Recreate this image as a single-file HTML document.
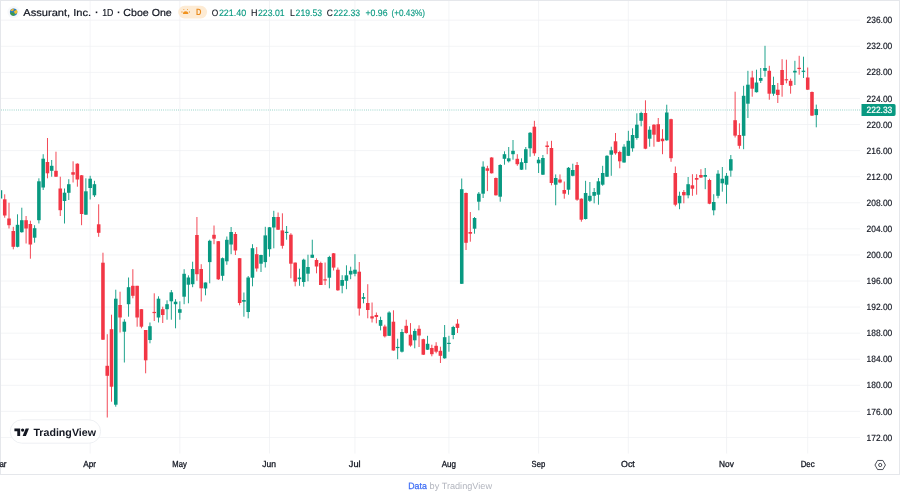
<!DOCTYPE html>
<html lang="en"><head><meta charset="utf-8"><title>Assurant, Inc. chart</title>
<style>
html,body{margin:0;padding:0;background:#fff;}
body{width:900px;height:498px;overflow:hidden;position:relative;font-family:"Liberation Sans",Arial,sans-serif;}
svg{position:absolute;left:0;top:0;display:block;will-change:transform}
text{font-family:"Liberation Sans",Arial,sans-serif;text-rendering:geometricPrecision}
.ax{font-size:9.1px;fill:#131722;stroke:#131722;stroke-width:0.18px}
.hd{font-size:9.3px;stroke-width:0.12px}
.tm{font-size:8.9px;fill:#131722;stroke:#131722;stroke-width:0.3px}
</style></head><body>
<svg width="900" height="498" viewBox="0 0 900 498">
<rect x="0" y="0" width="900" height="498" fill="#ffffff"/>
<g stroke="#eeeff2" stroke-width="0.72" fill="none">
<line x1="1" y1="20.20" x2="860" y2="20.20"/>
<line x1="1" y1="46.28" x2="860" y2="46.28"/>
<line x1="1" y1="72.36" x2="860" y2="72.36"/>
<line x1="1" y1="98.44" x2="860" y2="98.44"/>
<line x1="1" y1="124.52" x2="860" y2="124.52"/>
<line x1="1" y1="150.60" x2="860" y2="150.60"/>
<line x1="1" y1="176.68" x2="860" y2="176.68"/>
<line x1="1" y1="202.76" x2="860" y2="202.76"/>
<line x1="1" y1="228.84" x2="860" y2="228.84"/>
<line x1="1" y1="254.92" x2="860" y2="254.92"/>
<line x1="1" y1="281.00" x2="860" y2="281.00"/>
<line x1="1" y1="307.08" x2="860" y2="307.08"/>
<line x1="1" y1="333.16" x2="860" y2="333.16"/>
<line x1="1" y1="359.24" x2="860" y2="359.24"/>
<line x1="1" y1="385.32" x2="860" y2="385.32"/>
<line x1="1" y1="411.40" x2="860" y2="411.40"/>
<line x1="1" y1="437.48" x2="860" y2="437.48"/>
<line x1="90.15" y1="1" x2="90.15" y2="453.5"/>
<line x1="179.85" y1="1" x2="179.85" y2="453.5"/>
<line x1="269.54" y1="1" x2="269.54" y2="453.5"/>
<line x1="354.96" y1="1" x2="354.96" y2="453.5"/>
<line x1="448.93" y1="1" x2="448.93" y2="453.5"/>
<line x1="538.63" y1="1" x2="538.63" y2="453.5"/>
<line x1="628.32" y1="1" x2="628.32" y2="453.5"/>
<line x1="726.56" y1="1" x2="726.56" y2="453.5"/>
<line x1="807.71" y1="1" x2="807.71" y2="453.5"/>
</g>
<line x1="1" y1="110.0" x2="861" y2="110.0" stroke="#089981" stroke-width="1.15" stroke-dasharray="0.8 1.335" opacity="0.5"/>
<g>
<rect x="0.00" y="190.0" width="0.9" height="9.0" fill="#089981"/><rect x="-1.33" y="190.2" width="3.56" height="8.3" fill="#089981"/>
<rect x="4.28" y="194.3" width="0.9" height="23.4" fill="#f23645"/><rect x="2.95" y="199.3" width="3.56" height="16.2" fill="#f23645"/>
<rect x="8.55" y="202.7" width="0.9" height="25.8" fill="#f23645"/><rect x="7.22" y="218.5" width="3.56" height="6.7" fill="#f23645"/>
<rect x="12.82" y="226.8" width="0.9" height="22.5" fill="#f23645"/><rect x="11.49" y="231.0" width="3.56" height="15.8" fill="#f23645"/>
<rect x="17.09" y="214.3" width="0.9" height="33.0" fill="#089981"/><rect x="15.76" y="224.8" width="3.56" height="22.0" fill="#089981"/>
<rect x="21.36" y="207.7" width="0.9" height="25.0" fill="#089981"/><rect x="20.03" y="220.2" width="3.56" height="12.0" fill="#089981"/>
<rect x="25.63" y="216.0" width="0.9" height="27.5" fill="#f23645"/><rect x="24.30" y="220.2" width="3.56" height="8.3" fill="#f23645"/>
<rect x="29.90" y="220.7" width="0.9" height="38.0" fill="#f23645"/><rect x="28.57" y="224.0" width="3.56" height="20.5" fill="#f23645"/>
<rect x="34.17" y="225.2" width="0.9" height="17.5" fill="#089981"/><rect x="32.84" y="228.2" width="3.56" height="9.5" fill="#089981"/>
<rect x="38.45" y="178.3" width="0.9" height="45.2" fill="#089981"/><rect x="37.12" y="181.3" width="3.56" height="38.9" fill="#089981"/>
<rect x="42.72" y="154.2" width="0.9" height="35.8" fill="#089981"/><rect x="41.39" y="158.7" width="3.56" height="28.8" fill="#089981"/>
<rect x="46.99" y="138.0" width="0.9" height="40.3" fill="#f23645"/><rect x="45.66" y="162.0" width="3.56" height="11.3" fill="#f23645"/>
<rect x="51.26" y="160.0" width="0.9" height="16.7" fill="#089981"/><rect x="49.93" y="165.8" width="3.56" height="5.0" fill="#089981"/>
<rect x="55.53" y="151.7" width="0.9" height="25.3" fill="#f23645"/><rect x="54.20" y="170.8" width="3.56" height="5.9" fill="#f23645"/>
<rect x="59.80" y="176.7" width="0.9" height="39.3" fill="#f23645"/><rect x="58.47" y="188.5" width="3.56" height="21.7" fill="#f23645"/>
<rect x="64.07" y="188.5" width="0.9" height="35.0" fill="#089981"/><rect x="62.74" y="192.7" width="3.56" height="8.3" fill="#089981"/>
<rect x="68.34" y="179.2" width="0.9" height="20.8" fill="#089981"/><rect x="67.01" y="184.2" width="3.56" height="8.6" fill="#089981"/>
<rect x="72.62" y="161.3" width="0.9" height="21.2" fill="#f23645"/><rect x="71.29" y="172.2" width="3.56" height="2.5" fill="#f23645"/>
<rect x="76.89" y="163.3" width="0.9" height="23.4" fill="#f23645"/><rect x="75.56" y="163.7" width="3.56" height="15.8" fill="#f23645"/>
<rect x="81.16" y="175.0" width="0.9" height="50.2" fill="#f23645"/><rect x="79.83" y="175.3" width="3.56" height="38.7" fill="#f23645"/>
<rect x="85.43" y="178.3" width="0.9" height="36.4" fill="#089981"/><rect x="84.10" y="191.3" width="3.56" height="23.4" fill="#089981"/>
<rect x="89.70" y="175.8" width="0.9" height="23.7" fill="#089981"/><rect x="88.37" y="178.7" width="3.56" height="9.3" fill="#089981"/>
<rect x="93.97" y="180.8" width="0.9" height="16.2" fill="#089981"/><rect x="92.64" y="184.2" width="3.56" height="11.1" fill="#089981"/>
<rect x="98.24" y="204.3" width="0.9" height="32.5" fill="#f23645"/><rect x="96.91" y="224.3" width="3.56" height="8.5" fill="#f23645"/>
<rect x="102.51" y="252.7" width="0.9" height="87.3" fill="#f23645"/><rect x="101.18" y="262.7" width="3.56" height="77.0" fill="#f23645"/>
<rect x="106.78" y="334.2" width="0.9" height="83.3" fill="#f23645"/><rect x="105.45" y="365.8" width="3.56" height="10.0" fill="#f23645"/>
<rect x="111.06" y="314.7" width="0.9" height="87.0" fill="#f23645"/><rect x="109.73" y="329.2" width="3.56" height="57.5" fill="#f23645"/>
<rect x="115.33" y="289.7" width="0.9" height="117.0" fill="#089981"/><rect x="114.00" y="298.7" width="3.56" height="106.0" fill="#089981"/>
<rect x="119.60" y="291.7" width="0.9" height="40.8" fill="#f23645"/><rect x="118.27" y="305.0" width="3.56" height="12.5" fill="#f23645"/>
<rect x="123.87" y="319.2" width="0.9" height="43.3" fill="#089981"/><rect x="122.54" y="321.7" width="3.56" height="10.0" fill="#089981"/>
<rect x="128.14" y="277.5" width="0.9" height="39.2" fill="#089981"/><rect x="126.81" y="287.2" width="3.56" height="17.0" fill="#089981"/>
<rect x="132.41" y="269.2" width="0.9" height="29.1" fill="#f23645"/><rect x="131.08" y="285.8" width="3.56" height="10.0" fill="#f23645"/>
<rect x="136.68" y="285.8" width="0.9" height="40.9" fill="#f23645"/><rect x="135.35" y="285.8" width="3.56" height="31.7" fill="#f23645"/>
<rect x="140.95" y="309.0" width="0.9" height="19.3" fill="#f23645"/><rect x="139.62" y="309.2" width="3.56" height="17.5" fill="#f23645"/>
<rect x="145.23" y="330.0" width="0.9" height="43.3" fill="#f23645"/><rect x="143.90" y="330.0" width="3.56" height="30.3" fill="#f23645"/>
<rect x="149.50" y="322.5" width="0.9" height="20.8" fill="#089981"/><rect x="148.17" y="326.2" width="3.56" height="13.8" fill="#089981"/>
<rect x="153.77" y="293.3" width="0.9" height="27.7" fill="#f23645"/><rect x="152.44" y="311.9" width="3.56" height="1.2" fill="#f23645"/>
<rect x="158.04" y="296.3" width="0.9" height="26.2" fill="#089981"/><rect x="156.71" y="298.7" width="3.56" height="18.8" fill="#089981"/>
<rect x="162.31" y="306.7" width="0.9" height="16.3" fill="#f23645"/><rect x="160.98" y="309.2" width="3.56" height="5.8" fill="#f23645"/>
<rect x="166.58" y="300.3" width="0.9" height="19.4" fill="#089981"/><rect x="165.25" y="304.2" width="3.56" height="5.0" fill="#089981"/>
<rect x="170.85" y="290.0" width="0.9" height="29.7" fill="#089981"/><rect x="169.52" y="292.3" width="3.56" height="9.0" fill="#089981"/>
<rect x="175.12" y="299.2" width="0.9" height="29.1" fill="#089981"/><rect x="173.79" y="301.7" width="3.56" height="2.5" fill="#089981"/>
<rect x="179.40" y="301.3" width="0.9" height="18.4" fill="#089981"/><rect x="178.07" y="309.2" width="3.56" height="3.6" fill="#089981"/>
<rect x="183.67" y="269.2" width="0.9" height="35.0" fill="#089981"/><rect x="182.34" y="273.8" width="3.56" height="22.9" fill="#089981"/>
<rect x="187.94" y="275.3" width="0.9" height="28.0" fill="#089981"/><rect x="186.61" y="277.5" width="3.56" height="7.2" fill="#089981"/>
<rect x="192.21" y="261.7" width="0.9" height="25.5" fill="#089981"/><rect x="190.88" y="269.0" width="3.56" height="15.2" fill="#089981"/>
<rect x="196.48" y="217.0" width="0.9" height="63.8" fill="#f23645"/><rect x="195.15" y="235.0" width="3.56" height="39.2" fill="#f23645"/>
<rect x="200.75" y="264.2" width="0.9" height="37.3" fill="#f23645"/><rect x="199.42" y="269.0" width="3.56" height="19.3" fill="#f23645"/>
<rect x="205.02" y="282.5" width="0.9" height="12.8" fill="#089981"/><rect x="203.69" y="282.5" width="3.56" height="6.0" fill="#089981"/>
<rect x="209.29" y="239.7" width="0.9" height="43.6" fill="#089981"/><rect x="207.96" y="240.8" width="3.56" height="21.3" fill="#089981"/>
<rect x="213.56" y="225.5" width="0.9" height="18.7" fill="#f23645"/><rect x="212.23" y="234.8" width="3.56" height="3.9" fill="#f23645"/>
<rect x="217.84" y="241.0" width="0.9" height="39.0" fill="#f23645"/><rect x="216.51" y="241.2" width="3.56" height="38.1" fill="#f23645"/>
<rect x="222.11" y="257.5" width="0.9" height="23.2" fill="#089981"/><rect x="220.78" y="258.2" width="3.56" height="17.6" fill="#089981"/>
<rect x="226.38" y="236.5" width="0.9" height="28.3" fill="#089981"/><rect x="225.05" y="239.8" width="3.56" height="21.5" fill="#089981"/>
<rect x="230.65" y="227.0" width="0.9" height="27.2" fill="#089981"/><rect x="229.32" y="232.0" width="3.56" height="12.5" fill="#089981"/>
<rect x="234.92" y="232.0" width="0.9" height="23.0" fill="#f23645"/><rect x="233.59" y="234.0" width="3.56" height="16.5" fill="#f23645"/>
<rect x="239.19" y="258.0" width="0.9" height="47.3" fill="#f23645"/><rect x="237.86" y="258.2" width="3.56" height="44.8" fill="#f23645"/>
<rect x="243.46" y="292.5" width="0.9" height="24.2" fill="#089981"/><rect x="242.13" y="300.0" width="3.56" height="1.7" fill="#089981"/>
<rect x="247.73" y="276.0" width="0.9" height="42.3" fill="#089981"/><rect x="246.40" y="277.5" width="3.56" height="34.5" fill="#089981"/>
<rect x="252.01" y="244.2" width="0.9" height="42.1" fill="#089981"/><rect x="250.68" y="248.2" width="3.56" height="29.5" fill="#089981"/>
<rect x="256.28" y="247.1" width="0.9" height="24.5" fill="#f23645"/><rect x="254.95" y="254.2" width="3.56" height="14.3" fill="#f23645"/>
<rect x="260.55" y="254.7" width="0.9" height="17.3" fill="#089981"/><rect x="259.22" y="255.0" width="3.56" height="8.7" fill="#089981"/>
<rect x="264.82" y="226.8" width="0.9" height="40.7" fill="#089981"/><rect x="263.49" y="235.4" width="3.56" height="26.7" fill="#089981"/>
<rect x="269.09" y="227.0" width="0.9" height="29.7" fill="#089981"/><rect x="267.76" y="227.3" width="3.56" height="21.9" fill="#089981"/>
<rect x="273.36" y="210.8" width="0.9" height="37.5" fill="#089981"/><rect x="272.03" y="217.0" width="3.56" height="10.5" fill="#089981"/>
<rect x="277.63" y="212.5" width="0.9" height="17.5" fill="#f23645"/><rect x="276.30" y="217.0" width="3.56" height="12.7" fill="#f23645"/>
<rect x="281.90" y="213.3" width="0.9" height="35.3" fill="#f23645"/><rect x="280.57" y="230.4" width="3.56" height="15.4" fill="#f23645"/>
<rect x="286.18" y="226.0" width="0.9" height="13.7" fill="#089981"/><rect x="284.85" y="231.8" width="3.56" height="1.2" fill="#089981"/>
<rect x="290.45" y="233.2" width="0.9" height="45.1" fill="#f23645"/><rect x="289.12" y="234.7" width="3.56" height="29.0" fill="#f23645"/>
<rect x="294.72" y="262.5" width="0.9" height="23.8" fill="#f23645"/><rect x="293.39" y="262.6" width="3.56" height="19.1" fill="#f23645"/>
<rect x="298.99" y="268.7" width="0.9" height="17.1" fill="#089981"/><rect x="297.66" y="277.5" width="3.56" height="1.7" fill="#089981"/>
<rect x="303.26" y="258.7" width="0.9" height="28.0" fill="#089981"/><rect x="301.93" y="259.7" width="3.56" height="22.3" fill="#089981"/>
<rect x="307.53" y="254.7" width="0.9" height="26.6" fill="#089981"/><rect x="306.20" y="267.0" width="3.56" height="6.7" fill="#089981"/>
<rect x="311.80" y="239.7" width="0.9" height="18.1" fill="#089981"/><rect x="310.47" y="254.7" width="3.56" height="3.1" fill="#089981"/>
<rect x="316.07" y="258.3" width="0.9" height="15.0" fill="#f23645"/><rect x="314.74" y="260.0" width="3.56" height="6.5" fill="#f23645"/>
<rect x="320.34" y="261.7" width="0.9" height="23.3" fill="#f23645"/><rect x="319.01" y="263.0" width="3.56" height="22.0" fill="#f23645"/>
<rect x="324.62" y="262.5" width="0.9" height="22.5" fill="#f23645"/><rect x="323.29" y="279.3" width="3.56" height="1.2" fill="#f23645"/>
<rect x="328.89" y="255.8" width="0.9" height="32.5" fill="#089981"/><rect x="327.56" y="257.0" width="3.56" height="20.7" fill="#089981"/>
<rect x="333.16" y="253.0" width="0.9" height="17.5" fill="#f23645"/><rect x="331.83" y="253.3" width="3.56" height="14.3" fill="#f23645"/>
<rect x="337.43" y="267.5" width="0.9" height="23.3" fill="#f23645"/><rect x="336.10" y="269.7" width="3.56" height="20.6" fill="#f23645"/>
<rect x="341.70" y="275.2" width="0.9" height="18.1" fill="#089981"/><rect x="340.37" y="280.0" width="3.56" height="5.8" fill="#089981"/>
<rect x="345.97" y="265.3" width="0.9" height="23.9" fill="#089981"/><rect x="344.64" y="275.3" width="3.56" height="5.5" fill="#089981"/>
<rect x="350.24" y="266.7" width="0.9" height="12.5" fill="#089981"/><rect x="348.91" y="270.8" width="3.56" height="3.7" fill="#089981"/>
<rect x="354.51" y="254.2" width="0.9" height="22.1" fill="#089981"/><rect x="353.18" y="269.7" width="3.56" height="4.1" fill="#089981"/>
<rect x="358.79" y="262.0" width="0.9" height="53.6" fill="#f23645"/><rect x="357.46" y="271.7" width="3.56" height="36.8" fill="#f23645"/>
<rect x="363.06" y="293.0" width="0.9" height="10.3" fill="#089981"/><rect x="361.73" y="297.1" width="3.56" height="1.7" fill="#089981"/>
<rect x="367.33" y="284.2" width="0.9" height="34.1" fill="#f23645"/><rect x="366.00" y="303.0" width="3.56" height="7.0" fill="#f23645"/>
<rect x="371.60" y="302.5" width="0.9" height="20.0" fill="#f23645"/><rect x="370.27" y="316.3" width="3.56" height="2.2" fill="#f23645"/>
<rect x="375.87" y="312.5" width="0.9" height="10.8" fill="#f23645"/><rect x="374.54" y="315.0" width="3.56" height="2.0" fill="#f23645"/>
<rect x="380.14" y="316.7" width="0.9" height="13.7" fill="#089981"/><rect x="378.81" y="320.0" width="3.56" height="5.8" fill="#089981"/>
<rect x="384.41" y="324.7" width="0.9" height="12.8" fill="#f23645"/><rect x="383.08" y="326.5" width="3.56" height="9.8" fill="#f23645"/>
<rect x="388.68" y="311.3" width="0.9" height="24.7" fill="#089981"/><rect x="387.35" y="312.5" width="3.56" height="23.3" fill="#089981"/>
<rect x="392.96" y="310.3" width="0.9" height="40.4" fill="#f23645"/><rect x="391.63" y="321.7" width="3.56" height="28.8" fill="#f23645"/>
<rect x="397.23" y="338.7" width="0.9" height="20.5" fill="#089981"/><rect x="395.90" y="346.9" width="3.56" height="1.2" fill="#089981"/>
<rect x="401.50" y="329.0" width="0.9" height="23.5" fill="#089981"/><rect x="400.17" y="332.0" width="3.56" height="19.7" fill="#089981"/>
<rect x="405.77" y="319.7" width="0.9" height="14.0" fill="#f23645"/><rect x="404.44" y="325.8" width="3.56" height="7.2" fill="#f23645"/>
<rect x="410.04" y="323.1" width="0.9" height="23.6" fill="#f23645"/><rect x="408.71" y="334.7" width="3.56" height="10.8" fill="#f23645"/>
<rect x="414.31" y="328.7" width="0.9" height="19.6" fill="#089981"/><rect x="412.98" y="331.0" width="3.56" height="9.3" fill="#089981"/>
<rect x="418.58" y="325.3" width="0.9" height="21.7" fill="#f23645"/><rect x="417.25" y="328.8" width="3.56" height="6.7" fill="#f23645"/>
<rect x="422.85" y="338.7" width="0.9" height="16.3" fill="#f23645"/><rect x="421.52" y="339.2" width="3.56" height="15.5" fill="#f23645"/>
<rect x="427.12" y="335.8" width="0.9" height="14.2" fill="#089981"/><rect x="425.79" y="343.8" width="3.56" height="5.9" fill="#089981"/>
<rect x="431.40" y="344.7" width="0.9" height="11.6" fill="#f23645"/><rect x="430.07" y="348.0" width="3.56" height="6.2" fill="#f23645"/>
<rect x="435.67" y="342.2" width="0.9" height="11.1" fill="#f23645"/><rect x="434.34" y="345.8" width="3.56" height="5.9" fill="#f23645"/>
<rect x="439.94" y="346.7" width="0.9" height="16.3" fill="#f23645"/><rect x="438.61" y="350.8" width="3.56" height="5.0" fill="#f23645"/>
<rect x="444.21" y="325.0" width="0.9" height="33.7" fill="#089981"/><rect x="442.88" y="337.2" width="3.56" height="21.1" fill="#089981"/>
<rect x="448.48" y="335.8" width="0.9" height="15.9" fill="#089981"/><rect x="447.15" y="342.8" width="3.56" height="1.2" fill="#089981"/>
<rect x="452.75" y="325.8" width="0.9" height="13.4" fill="#089981"/><rect x="451.42" y="327.0" width="3.56" height="8.0" fill="#089981"/>
<rect x="457.02" y="319.2" width="0.9" height="13.8" fill="#f23645"/><rect x="455.69" y="323.7" width="3.56" height="4.2" fill="#f23645"/>
<rect x="461.29" y="178.5" width="0.9" height="105.5" fill="#089981"/><rect x="459.96" y="189.2" width="3.56" height="94.6" fill="#089981"/>
<rect x="465.57" y="192.5" width="0.9" height="57.5" fill="#f23645"/><rect x="464.24" y="193.0" width="3.56" height="49.8" fill="#f23645"/>
<rect x="469.84" y="212.0" width="0.9" height="29.7" fill="#f23645"/><rect x="468.51" y="232.0" width="3.56" height="1.7" fill="#f23645"/>
<rect x="474.11" y="217.0" width="0.9" height="16.7" fill="#089981"/><rect x="472.78" y="218.0" width="3.56" height="10.7" fill="#089981"/>
<rect x="478.38" y="192.0" width="0.9" height="18.3" fill="#089981"/><rect x="477.05" y="193.7" width="3.56" height="8.0" fill="#089981"/>
<rect x="482.65" y="161.3" width="0.9" height="36.7" fill="#089981"/><rect x="481.32" y="166.7" width="3.56" height="27.0" fill="#089981"/>
<rect x="486.92" y="165.8" width="0.9" height="25.3" fill="#f23645"/><rect x="485.59" y="168.3" width="3.56" height="2.5" fill="#f23645"/>
<rect x="491.19" y="157.2" width="0.9" height="16.3" fill="#f23645"/><rect x="489.86" y="157.5" width="3.56" height="15.8" fill="#f23645"/>
<rect x="495.46" y="177.5" width="0.9" height="18.0" fill="#f23645"/><rect x="494.13" y="178.0" width="3.56" height="17.3" fill="#f23645"/>
<rect x="499.74" y="164.2" width="0.9" height="37.5" fill="#089981"/><rect x="498.41" y="165.0" width="3.56" height="31.7" fill="#089981"/>
<rect x="504.01" y="151.3" width="0.9" height="13.4" fill="#089981"/><rect x="502.68" y="154.2" width="3.56" height="4.6" fill="#089981"/>
<rect x="508.28" y="147.0" width="0.9" height="15.5" fill="#089981"/><rect x="506.95" y="158.3" width="3.56" height="3.0" fill="#089981"/>
<rect x="512.55" y="140.0" width="0.9" height="19.7" fill="#089981"/><rect x="511.22" y="150.8" width="3.56" height="3.4" fill="#089981"/>
<rect x="516.82" y="154.2" width="0.9" height="11.6" fill="#f23645"/><rect x="515.49" y="158.8" width="3.56" height="5.4" fill="#f23645"/>
<rect x="521.09" y="158.3" width="0.9" height="11.7" fill="#089981"/><rect x="519.76" y="162.2" width="3.56" height="7.5" fill="#089981"/>
<rect x="525.36" y="147.0" width="0.9" height="22.7" fill="#089981"/><rect x="524.03" y="149.2" width="3.56" height="13.8" fill="#089981"/>
<rect x="529.63" y="132.0" width="0.9" height="24.7" fill="#089981"/><rect x="528.30" y="132.8" width="3.56" height="15.5" fill="#089981"/>
<rect x="533.90" y="120.8" width="0.9" height="35.0" fill="#f23645"/><rect x="532.57" y="126.7" width="3.56" height="26.6" fill="#f23645"/>
<rect x="538.18" y="157.0" width="0.9" height="16.0" fill="#089981"/><rect x="536.85" y="159.7" width="3.56" height="3.6" fill="#089981"/>
<rect x="542.45" y="155.0" width="0.9" height="20.0" fill="#089981"/><rect x="541.12" y="158.0" width="3.56" height="16.7" fill="#089981"/>
<rect x="546.72" y="141.3" width="0.9" height="12.9" fill="#f23645"/><rect x="545.39" y="145.5" width="3.56" height="1.5" fill="#f23645"/>
<rect x="550.99" y="140.8" width="0.9" height="44.5" fill="#f23645"/><rect x="549.66" y="148.0" width="3.56" height="35.0" fill="#f23645"/>
<rect x="555.26" y="174.4" width="0.9" height="30.9" fill="#089981"/><rect x="553.93" y="178.0" width="3.56" height="6.7" fill="#089981"/>
<rect x="559.53" y="174.4" width="0.9" height="8.9" fill="#f23645"/><rect x="558.20" y="179.5" width="3.56" height="3.0" fill="#f23645"/>
<rect x="563.80" y="181.5" width="0.9" height="17.2" fill="#f23645"/><rect x="562.47" y="190.0" width="3.56" height="3.7" fill="#f23645"/>
<rect x="568.07" y="167.0" width="0.9" height="27.7" fill="#089981"/><rect x="566.74" y="167.8" width="3.56" height="21.9" fill="#089981"/>
<rect x="572.35" y="163.7" width="0.9" height="12.6" fill="#089981"/><rect x="571.02" y="170.0" width="3.56" height="5.8" fill="#089981"/>
<rect x="576.62" y="162.0" width="0.9" height="38.8" fill="#f23645"/><rect x="575.29" y="165.0" width="3.56" height="34.7" fill="#f23645"/>
<rect x="580.89" y="198.3" width="0.9" height="23.4" fill="#f23645"/><rect x="579.56" y="198.7" width="3.56" height="21.0" fill="#f23645"/>
<rect x="585.16" y="180.8" width="0.9" height="38.7" fill="#089981"/><rect x="583.83" y="193.0" width="3.56" height="26.0" fill="#089981"/>
<rect x="589.43" y="182.0" width="0.9" height="20.0" fill="#089981"/><rect x="588.10" y="195.8" width="3.56" height="5.0" fill="#089981"/>
<rect x="593.70" y="188.0" width="0.9" height="15.3" fill="#089981"/><rect x="592.37" y="192.0" width="3.56" height="3.8" fill="#089981"/>
<rect x="597.97" y="178.0" width="0.9" height="26.7" fill="#089981"/><rect x="596.64" y="181.3" width="3.56" height="13.4" fill="#089981"/>
<rect x="602.24" y="165.8" width="0.9" height="20.0" fill="#089981"/><rect x="600.91" y="173.0" width="3.56" height="11.7" fill="#089981"/>
<rect x="606.52" y="155.2" width="0.9" height="21.8" fill="#089981"/><rect x="605.19" y="155.8" width="3.56" height="20.9" fill="#089981"/>
<rect x="610.79" y="146.7" width="0.9" height="29.1" fill="#089981"/><rect x="609.46" y="150.3" width="3.56" height="4.4" fill="#089981"/>
<rect x="615.06" y="133.0" width="0.9" height="21.7" fill="#f23645"/><rect x="613.73" y="141.3" width="3.56" height="12.0" fill="#f23645"/>
<rect x="619.33" y="150.8" width="0.9" height="17.5" fill="#f23645"/><rect x="618.00" y="152.0" width="3.56" height="9.3" fill="#f23645"/>
<rect x="623.60" y="144.2" width="0.9" height="18.5" fill="#089981"/><rect x="622.27" y="146.7" width="3.56" height="15.8" fill="#089981"/>
<rect x="627.87" y="130.8" width="0.9" height="25.2" fill="#089981"/><rect x="626.54" y="140.8" width="3.56" height="15.0" fill="#089981"/>
<rect x="632.14" y="128.3" width="0.9" height="23.4" fill="#089981"/><rect x="630.81" y="135.0" width="3.56" height="13.3" fill="#089981"/>
<rect x="636.41" y="113.3" width="0.9" height="26.4" fill="#089981"/><rect x="635.08" y="124.7" width="3.56" height="13.3" fill="#089981"/>
<rect x="640.68" y="111.7" width="0.9" height="14.6" fill="#089981"/><rect x="639.35" y="113.0" width="3.56" height="7.8" fill="#089981"/>
<rect x="644.96" y="100.3" width="0.9" height="48.9" fill="#f23645"/><rect x="643.63" y="113.0" width="3.56" height="35.7" fill="#f23645"/>
<rect x="649.23" y="126.3" width="0.9" height="20.4" fill="#089981"/><rect x="647.90" y="129.7" width="3.56" height="9.0" fill="#089981"/>
<rect x="653.50" y="124.2" width="0.9" height="22.5" fill="#f23645"/><rect x="652.17" y="124.7" width="3.56" height="10.0" fill="#f23645"/>
<rect x="657.77" y="118.0" width="0.9" height="24.0" fill="#f23645"/><rect x="656.44" y="124.2" width="3.56" height="17.5" fill="#f23645"/>
<rect x="662.04" y="129.2" width="0.9" height="25.0" fill="#f23645"/><rect x="660.71" y="138.7" width="3.56" height="2.5" fill="#f23645"/>
<rect x="666.31" y="104.7" width="0.9" height="36.1" fill="#089981"/><rect x="664.98" y="112.5" width="3.56" height="27.8" fill="#089981"/>
<rect x="670.58" y="118.7" width="0.9" height="43.1" fill="#f23645"/><rect x="669.25" y="119.2" width="3.56" height="39.0" fill="#f23645"/>
<rect x="674.85" y="166.5" width="0.9" height="39.8" fill="#f23645"/><rect x="673.52" y="173.0" width="3.56" height="31.7" fill="#f23645"/>
<rect x="679.13" y="191.7" width="0.9" height="17.5" fill="#089981"/><rect x="677.80" y="195.8" width="3.56" height="7.5" fill="#089981"/>
<rect x="683.40" y="190.0" width="0.9" height="13.3" fill="#f23645"/><rect x="682.07" y="192.0" width="3.56" height="3.3" fill="#f23645"/>
<rect x="687.67" y="177.0" width="0.9" height="21.3" fill="#089981"/><rect x="686.34" y="184.2" width="3.56" height="11.1" fill="#089981"/>
<rect x="691.94" y="174.2" width="0.9" height="21.6" fill="#f23645"/><rect x="690.61" y="185.3" width="3.56" height="3.4" fill="#f23645"/>
<rect x="696.21" y="174.2" width="0.9" height="20.5" fill="#f23645"/><rect x="694.88" y="178.0" width="3.56" height="1.7" fill="#f23645"/>
<rect x="700.48" y="169.2" width="0.9" height="8.8" fill="#f23645"/><rect x="699.15" y="175.0" width="3.56" height="2.5" fill="#f23645"/>
<rect x="704.75" y="168.0" width="0.9" height="21.2" fill="#089981"/><rect x="703.42" y="175.0" width="3.56" height="1.8" fill="#089981"/>
<rect x="709.02" y="178.7" width="0.9" height="25.5" fill="#f23645"/><rect x="707.69" y="180.0" width="3.56" height="23.7" fill="#f23645"/>
<rect x="713.30" y="194.2" width="0.9" height="21.1" fill="#089981"/><rect x="711.97" y="202.0" width="3.56" height="8.3" fill="#089981"/>
<rect x="717.57" y="170.2" width="0.9" height="28.1" fill="#089981"/><rect x="716.24" y="173.7" width="3.56" height="22.1" fill="#089981"/>
<rect x="721.84" y="167.0" width="0.9" height="24.7" fill="#089981"/><rect x="720.51" y="178.7" width="3.56" height="4.6" fill="#089981"/>
<rect x="726.11" y="173.0" width="0.9" height="30.7" fill="#089981"/><rect x="724.78" y="175.8" width="3.56" height="8.9" fill="#089981"/>
<rect x="730.38" y="155.0" width="0.9" height="21.7" fill="#089981"/><rect x="729.05" y="159.2" width="3.56" height="11.4" fill="#089981"/>
<rect x="734.65" y="91.7" width="0.9" height="45.8" fill="#f23645"/><rect x="733.32" y="120.2" width="3.56" height="15.4" fill="#f23645"/>
<rect x="738.92" y="123.3" width="0.9" height="25.4" fill="#f23645"/><rect x="737.59" y="135.0" width="3.56" height="10.8" fill="#f23645"/>
<rect x="743.19" y="85.8" width="0.9" height="63.4" fill="#089981"/><rect x="741.86" y="95.8" width="3.56" height="40.0" fill="#089981"/>
<rect x="747.46" y="70.8" width="0.9" height="47.2" fill="#089981"/><rect x="746.13" y="84.7" width="3.56" height="19.0" fill="#089981"/>
<rect x="751.74" y="70.8" width="0.9" height="25.9" fill="#f23645"/><rect x="750.41" y="77.5" width="3.56" height="11.2" fill="#f23645"/>
<rect x="756.01" y="69.7" width="0.9" height="22.8" fill="#089981"/><rect x="754.68" y="82.5" width="3.56" height="9.7" fill="#089981"/>
<rect x="760.28" y="68.0" width="0.9" height="15.0" fill="#089981"/><rect x="758.95" y="78.0" width="3.56" height="2.8" fill="#089981"/>
<rect x="764.55" y="45.8" width="0.9" height="30.9" fill="#089981"/><rect x="763.22" y="68.0" width="3.56" height="2.8" fill="#089981"/>
<rect x="768.82" y="65.8" width="0.9" height="33.9" fill="#f23645"/><rect x="767.49" y="70.8" width="3.56" height="22.9" fill="#f23645"/>
<rect x="773.09" y="76.7" width="0.9" height="19.1" fill="#089981"/><rect x="771.76" y="85.0" width="3.56" height="8.7" fill="#089981"/>
<rect x="777.36" y="83.0" width="0.9" height="20.0" fill="#f23645"/><rect x="776.03" y="89.7" width="3.56" height="5.3" fill="#f23645"/>
<rect x="781.63" y="59.2" width="0.9" height="37.5" fill="#f23645"/><rect x="780.30" y="70.0" width="3.56" height="15.0" fill="#f23645"/>
<rect x="785.91" y="59.7" width="0.9" height="23.6" fill="#f23645"/><rect x="784.58" y="79.2" width="3.56" height="1.2" fill="#f23645"/>
<rect x="790.18" y="78.7" width="0.9" height="15.0" fill="#f23645"/><rect x="788.85" y="80.8" width="3.56" height="5.0" fill="#f23645"/>
<rect x="794.45" y="60.8" width="0.9" height="24.2" fill="#089981"/><rect x="793.12" y="70.8" width="3.56" height="1.7" fill="#089981"/>
<rect x="798.72" y="55.8" width="0.9" height="18.9" fill="#f23645"/><rect x="797.39" y="67.8" width="3.56" height="1.2" fill="#f23645"/>
<rect x="802.99" y="56.7" width="0.9" height="21.3" fill="#089981"/><rect x="801.66" y="70.7" width="3.56" height="1.2" fill="#089981"/>
<rect x="807.26" y="67.5" width="0.9" height="22.5" fill="#f23645"/><rect x="805.93" y="77.5" width="3.56" height="12.2" fill="#f23645"/>
<rect x="811.53" y="91.5" width="0.9" height="24.5" fill="#f23645"/><rect x="810.20" y="92.0" width="3.56" height="23.6" fill="#f23645"/>
<rect x="815.80" y="104.6" width="0.9" height="22.7" fill="#089981"/><rect x="814.47" y="109.1" width="3.56" height="6.0" fill="#089981"/>
</g>
<rect x="0.5" y="0.5" width="899" height="474" fill="none" stroke="#e5e7eb" stroke-width="1"/>
<text class="ax" x="866.6" y="23.30" textLength="25.7" lengthAdjust="spacingAndGlyphs">236.00</text>
<text class="ax" x="866.6" y="49.38" textLength="25.7" lengthAdjust="spacingAndGlyphs">232.00</text>
<text class="ax" x="866.6" y="75.46" textLength="25.7" lengthAdjust="spacingAndGlyphs">228.00</text>
<text class="ax" x="866.6" y="101.54" textLength="25.7" lengthAdjust="spacingAndGlyphs">224.00</text>
<text class="ax" x="866.6" y="127.62" textLength="25.7" lengthAdjust="spacingAndGlyphs">220.00</text>
<text class="ax" x="866.6" y="153.70" textLength="25.7" lengthAdjust="spacingAndGlyphs">216.00</text>
<text class="ax" x="866.6" y="179.78" textLength="25.7" lengthAdjust="spacingAndGlyphs">212.00</text>
<text class="ax" x="866.6" y="205.86" textLength="25.7" lengthAdjust="spacingAndGlyphs">208.00</text>
<text class="ax" x="866.6" y="231.94" textLength="25.7" lengthAdjust="spacingAndGlyphs">204.00</text>
<text class="ax" x="866.6" y="258.02" textLength="25.7" lengthAdjust="spacingAndGlyphs">200.00</text>
<text class="ax" x="866.6" y="284.10" textLength="25.7" lengthAdjust="spacingAndGlyphs">196.00</text>
<text class="ax" x="866.6" y="310.18" textLength="25.7" lengthAdjust="spacingAndGlyphs">192.00</text>
<text class="ax" x="866.6" y="336.26" textLength="25.7" lengthAdjust="spacingAndGlyphs">188.00</text>
<text class="ax" x="866.6" y="362.34" textLength="25.7" lengthAdjust="spacingAndGlyphs">184.00</text>
<text class="ax" x="866.6" y="388.42" textLength="25.7" lengthAdjust="spacingAndGlyphs">180.00</text>
<text class="ax" x="866.6" y="414.50" textLength="25.7" lengthAdjust="spacingAndGlyphs">176.00</text>
<text class="ax" x="866.6" y="440.58" textLength="25.7" lengthAdjust="spacingAndGlyphs">172.00</text>
<path d="M861.5 104.1H894a1.6 1.6 0 0 1 1.6 1.6v8.6a1.6 1.6 0 0 1-1.6 1.6H861.5z" fill="#089981"/>
<text x="866.6" y="113.3" font-size="9.1" fill="#ffffff" stroke="#ffffff" stroke-width="0.2" textLength="25.7" lengthAdjust="spacingAndGlyphs">222.33</text>
<text class="tm" x="-7.1" y="467.4" textLength="13.6" lengthAdjust="spacingAndGlyphs">Mar</text>
<text class="tm" x="83.3" y="467.4" textLength="12.8" lengthAdjust="spacingAndGlyphs">Apr</text>
<text class="tm" x="172.3" y="467.4" textLength="14.4" lengthAdjust="spacingAndGlyphs">May</text>
<text class="tm" x="262.3" y="467.4" textLength="13.7" lengthAdjust="spacingAndGlyphs">Jun</text>
<text class="tm" x="348.8" y="467.4" textLength="11.8" lengthAdjust="spacingAndGlyphs">Jul</text>
<text class="tm" x="441.7" y="467.4" textLength="14.3" lengthAdjust="spacingAndGlyphs">Aug</text>
<text class="tm" x="531.6" y="467.4" textLength="13.7" lengthAdjust="spacingAndGlyphs">Sep</text>
<text class="tm" x="621.1" y="467.4" textLength="13.7" lengthAdjust="spacingAndGlyphs">Oct</text>
<text class="tm" x="719.0" y="467.4" textLength="14.8" lengthAdjust="spacingAndGlyphs">Nov</text>
<text class="tm" x="800.7" y="467.4" textLength="14.0" lengthAdjust="spacingAndGlyphs">Dec</text>
<polygon points="885.45,465.00 882.83,469.55 877.58,469.55 874.95,465.00 877.58,460.45 882.83,460.45" fill="none" stroke="#2a2e39" stroke-width="0.85"/>
<circle cx="880.2" cy="465" r="1.6" fill="none" stroke="#2a2e39" stroke-width="0.85"/>
<g>
<circle cx="13.6" cy="12.1" r="6.2" fill="#f7f8fa"/>
<circle cx="13.6" cy="12.1" r="3.7" fill="#2a7fc1"/>
<path d="M10.4 10.6a3.7 3.7 0 0 1 3-2.2l0.6 1.6-1.8 1.3z" fill="#f2b632"/>
<path d="M13.9 11.2l2.9-1.4a3.7 3.7 0 0 1 0.3 3.5l-2.2 0.6z" fill="#f2c230"/>
<path d="M10.1 12.8l2.4-.6 2.4 1.6-.6 1.9a3.7 3.7 0 0 1-4.2-2.9z" fill="#3f9b46"/>
</g>
<text x="23.3" y="16.0" font-size="10.2" fill="#131722" stroke="#131722" stroke-width="0.2" textLength="67.8" lengthAdjust="spacingAndGlyphs">Assurant, Inc.</text>
<text x="96.75" y="16.0" font-size="11" font-weight="bold" fill="#131722" text-anchor="middle">·</text>
<text x="102.2" y="16.0" font-size="10.2" fill="#131722" stroke="#131722" stroke-width="0.2" textLength="11.2" lengthAdjust="spacingAndGlyphs">1D</text>
<text x="118.95" y="16.0" font-size="11" font-weight="bold" fill="#131722" text-anchor="middle">·</text>
<text x="123.3" y="16.0" font-size="10.2" fill="#131722" stroke="#131722" stroke-width="0.2" textLength="48.5" lengthAdjust="spacingAndGlyphs">Cboe One</text>
<rect x="178.2" y="5.8" width="28.9" height="12.6" rx="6.3" fill="#fdebd4"/>
<g fill="#f0921e">
<path d="M182.95 14.0a2.7 2.7 0 0 1 5.4 0z"/>
<rect x="181.4" y="11.3" width="1.1" height="1.4" fill="#f0a64a"/>
<rect x="188.9" y="11.3" width="1.1" height="1.4" fill="#f0a64a"/>
<rect x="183.3" y="9.0" width="1.0" height="0.9" fill="#f0a64a"/>
<rect x="187.0" y="9.0" width="1.0" height="0.9" fill="#f0a64a"/>
</g>
<text x="196.0" y="15.4" font-size="9.2" font-weight="bold" fill="#e98b1f" textLength="5.4" lengthAdjust="spacingAndGlyphs">D</text>
<text class="hd" x="211.8" y="15.8" fill="#131722" stroke="#131722" textLength="6.5" lengthAdjust="spacingAndGlyphs">O</text>
<text class="hd" x="218.9" y="15.8" fill="#089981" stroke="#089981" textLength="27.3" lengthAdjust="spacingAndGlyphs">221.40</text>
<text class="hd" x="250.9" y="15.8" fill="#131722" stroke="#131722" textLength="6.5" lengthAdjust="spacingAndGlyphs">H</text>
<text class="hd" x="258.0" y="15.8" fill="#089981" stroke="#089981" textLength="26.6" lengthAdjust="spacingAndGlyphs">223.01</text>
<text class="hd" x="290.0" y="15.8" fill="#131722" stroke="#131722" textLength="4.9" lengthAdjust="spacingAndGlyphs">L</text>
<text class="hd" x="295.6" y="15.8" fill="#089981" stroke="#089981" textLength="26.5" lengthAdjust="spacingAndGlyphs">219.53</text>
<text class="hd" x="326.8" y="15.8" fill="#131722" stroke="#131722" textLength="6.1" lengthAdjust="spacingAndGlyphs">C</text>
<text class="hd" x="333.5" y="15.8" fill="#089981" stroke="#089981" textLength="26.6" lengthAdjust="spacingAndGlyphs">222.33</text>
<text class="hd" x="365.4" y="15.8" fill="#089981" stroke="#089981" textLength="22.2" lengthAdjust="spacingAndGlyphs">+0.96</text>
<text class="hd" x="391.5" y="15.8" fill="#089981" stroke="#089981" textLength="33.5" lengthAdjust="spacingAndGlyphs">(+0.43%)</text>
<rect x="10.2" y="419.8" width="90.4" height="23.4" rx="11.7" fill="#ffffff" stroke="#eceef2" stroke-width="0.9"/>
<g transform="translate(14.4,426.7) scale(0.411,0.42)" fill="#131722">
<path d="M14 22H7V11H0V4h14v18zM28 22h-8l7.5-18h8L28 22z"/><circle cx="20" cy="8" r="4"/>
</g>
<text x="33.4" y="436.0" font-size="10.6" font-weight="bold" fill="#131722" textLength="62.6" lengthAdjust="spacingAndGlyphs">TradingView</text>
<text x="408.2" y="489.4" font-size="9.2" fill="#3d6df5" stroke="#3d6df5" stroke-width="0.25" textLength="18.6" lengthAdjust="spacingAndGlyphs">Data</text>
<text x="429.6" y="489.4" font-size="9.2" fill="#b2b5be" textLength="62.4" lengthAdjust="spacingAndGlyphs">by TradingView</text>
</svg>
</body></html>
